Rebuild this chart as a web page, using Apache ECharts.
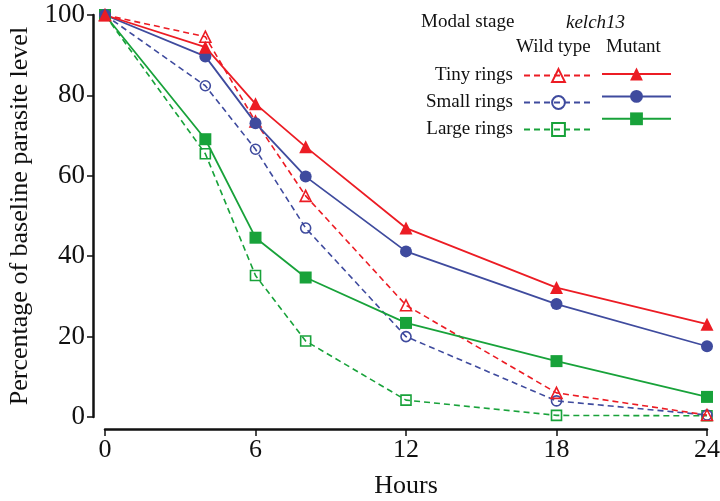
<!DOCTYPE html>
<html><head><meta charset="utf-8">
<script src="https://cdn.jsdelivr.net/npm/echarts@6/dist/echarts.min.js"></script>
<style>html,body{margin:0;padding:0;background:#fff}#c{width:720px;height:501px}</style>
</head><body><div id="c"></div>
<script>
var hours = [0, 4, 6, 8, 12, 18, 24];
var tinyWT = [100, 94.6, 73.5, 55.0, 27.8, 6.0, 0.5];
var tinyMut = [100, 92.0, 77.9, 67.2, 47.0, 32.2, 23.1];
var smallWT = [100, 82.4, 66.6, 47.0, 20.0, 4.0, 0.5];
var smallMut = [100, 89.7, 73.1, 59.8, 41.2, 28.1, 17.6];
var largeWT = [100, 65.5, 35.2, 18.9, 4.2, 0.4, 0.3];
var largeMut = [100, 69.1, 44.6, 34.7, 23.4, 13.9, 5.0];
var xTicks = [0, 6, 12, 18, 24];
var yTicks = [0, 20, 40, 60, 80, 100];
var rowLabels = ['Tiny rings', 'Small rings', 'Large rings'];

var RED = '#EC1C24', BLUE = '#3F4B9E', GREEN = '#18A23A';
var FONT = 'Liberation Serif';

function pairs(v) { return hours.map(function (h, i) { return [h, v[i]]; }); }
function wt(name, vals, color, sym, size) {
  return { name: name, type: 'line', data: pairs(vals), symbol: sym, symbolSize: size,
    lineStyle: { color: color, width: 1.6, type: [6, 4] },
    itemStyle: { color: 'rgba(255,255,255,0)', borderColor: color, borderWidth: 1.6 },
    z: 2, animation: false };
}
function mut(name, vals, color, sym, size) {
  return { name: name, type: 'line', data: pairs(vals), symbol: sym, symbolSize: size,
    lineStyle: { color: color, width: 1.8, type: 'solid' },
    itemStyle: { color: color, borderWidth: 0 },
    z: 3, animation: false };
}

var chart = echarts.init(document.getElementById('c'), null, { renderer: 'canvas' });
chart.setOption({
  backgroundColor: '#ffffff',
  textStyle: { fontFamily: FONT },
  grid: { left: 105, right: 13, top: 15, bottom: 84, containLabel: false, outerBoundsMode: 'none' },
  xAxis: {
    type: 'value', min: 0, max: 24, interval: 6, offset: 12,
    name: 'Hours', nameLocation: 'middle', nameGap: 44,
    nameTextStyle: { fontFamily: FONT, fontSize: 26, color: '#111' },
    axisLine: { onZero: false, lineStyle: { color: '#111', width: 2.5 } },
    axisTick: { length: 7, lineStyle: { color: '#111', width: 1.5 } },
    axisLabel: { fontFamily: FONT, fontSize: 26, color: '#111', margin: 8,
      formatter: function (v) { return xTicks.indexOf(v) >= 0 ? String(v) : ''; } },
    splitLine: { show: false }
  },
  yAxis: {
    type: 'value', min: 0, max: 100, interval: 20, offset: 12,
    name: 'Percentage of baseline parasite level', nameLocation: 'middle', nameGap: 58,
    nameTextStyle: { fontFamily: FONT, fontSize: 26, color: '#111' },
    axisLine: { show: true, onZero: false, lineStyle: { color: '#111', width: 2.5 } },
    axisTick: { show: true, length: 6, lineStyle: { color: '#111', width: 1.5 } },
    axisLabel: { fontFamily: FONT, fontSize: 27, color: '#111', margin: 8,
      formatter: function (v) { return yTicks.indexOf(v) >= 0 ? String(v) : ''; } },
    splitLine: { show: false }
  },
  legend: [
    { orient: 'vertical', right: 121, top: 61, align: 'right', itemWidth: 69, itemHeight: 16, itemGap: 8,
      data: ['Tiny WT', 'Small WT', 'Large WT'],
      formatter: function (n) { return rowLabels[['Tiny WT', 'Small WT', 'Large WT'].indexOf(n)]; },
      textStyle: { fontFamily: FONT, fontSize: 19, color: '#111', padding: [0, 6, 0, 0] }, selectedMode: false },
    { orient: 'vertical', left: 596, top: 61, align: 'left', itemWidth: 69, itemHeight: 16, itemGap: 8,
      data: ['Tiny Mut', 'Small Mut', 'Large Mut'],
      formatter: function () { return ''; },
      textStyle: { fontFamily: FONT, fontSize: 19, color: '#111' }, selectedMode: false }
  ],
  graphic: [
    { type: 'text', left: 421, top: 13, style: { text: 'Modal stage', font: '19px "Liberation Serif"', fill: '#111' } },
    { type: 'text', left: 566, top: 13, style: { text: 'kelch13', font: 'italic 19px "Liberation Serif"', fill: '#111' } },
    { type: 'text', left: 516, top: 38, style: { text: 'Wild type', font: '19px "Liberation Serif"', fill: '#111' } },
    { type: 'text', left: 606, top: 38, style: { text: 'Mutant', font: '19px "Liberation Serif"', fill: '#111' } }
  ],
  series: [
    wt('Large WT', largeWT, GREEN, 'rect', 10),
    wt('Small WT', smallWT, BLUE, 'circle', 10),
    wt('Tiny WT', tinyWT, RED, 'triangle', 11),
    mut('Large Mut', largeMut, GREEN, 'rect', 12),
    mut('Small Mut', smallMut, BLUE, 'circle', 12),
    mut('Tiny Mut', tinyMut, RED, 'triangle', 13)
  ]
});
</script></body></html>
